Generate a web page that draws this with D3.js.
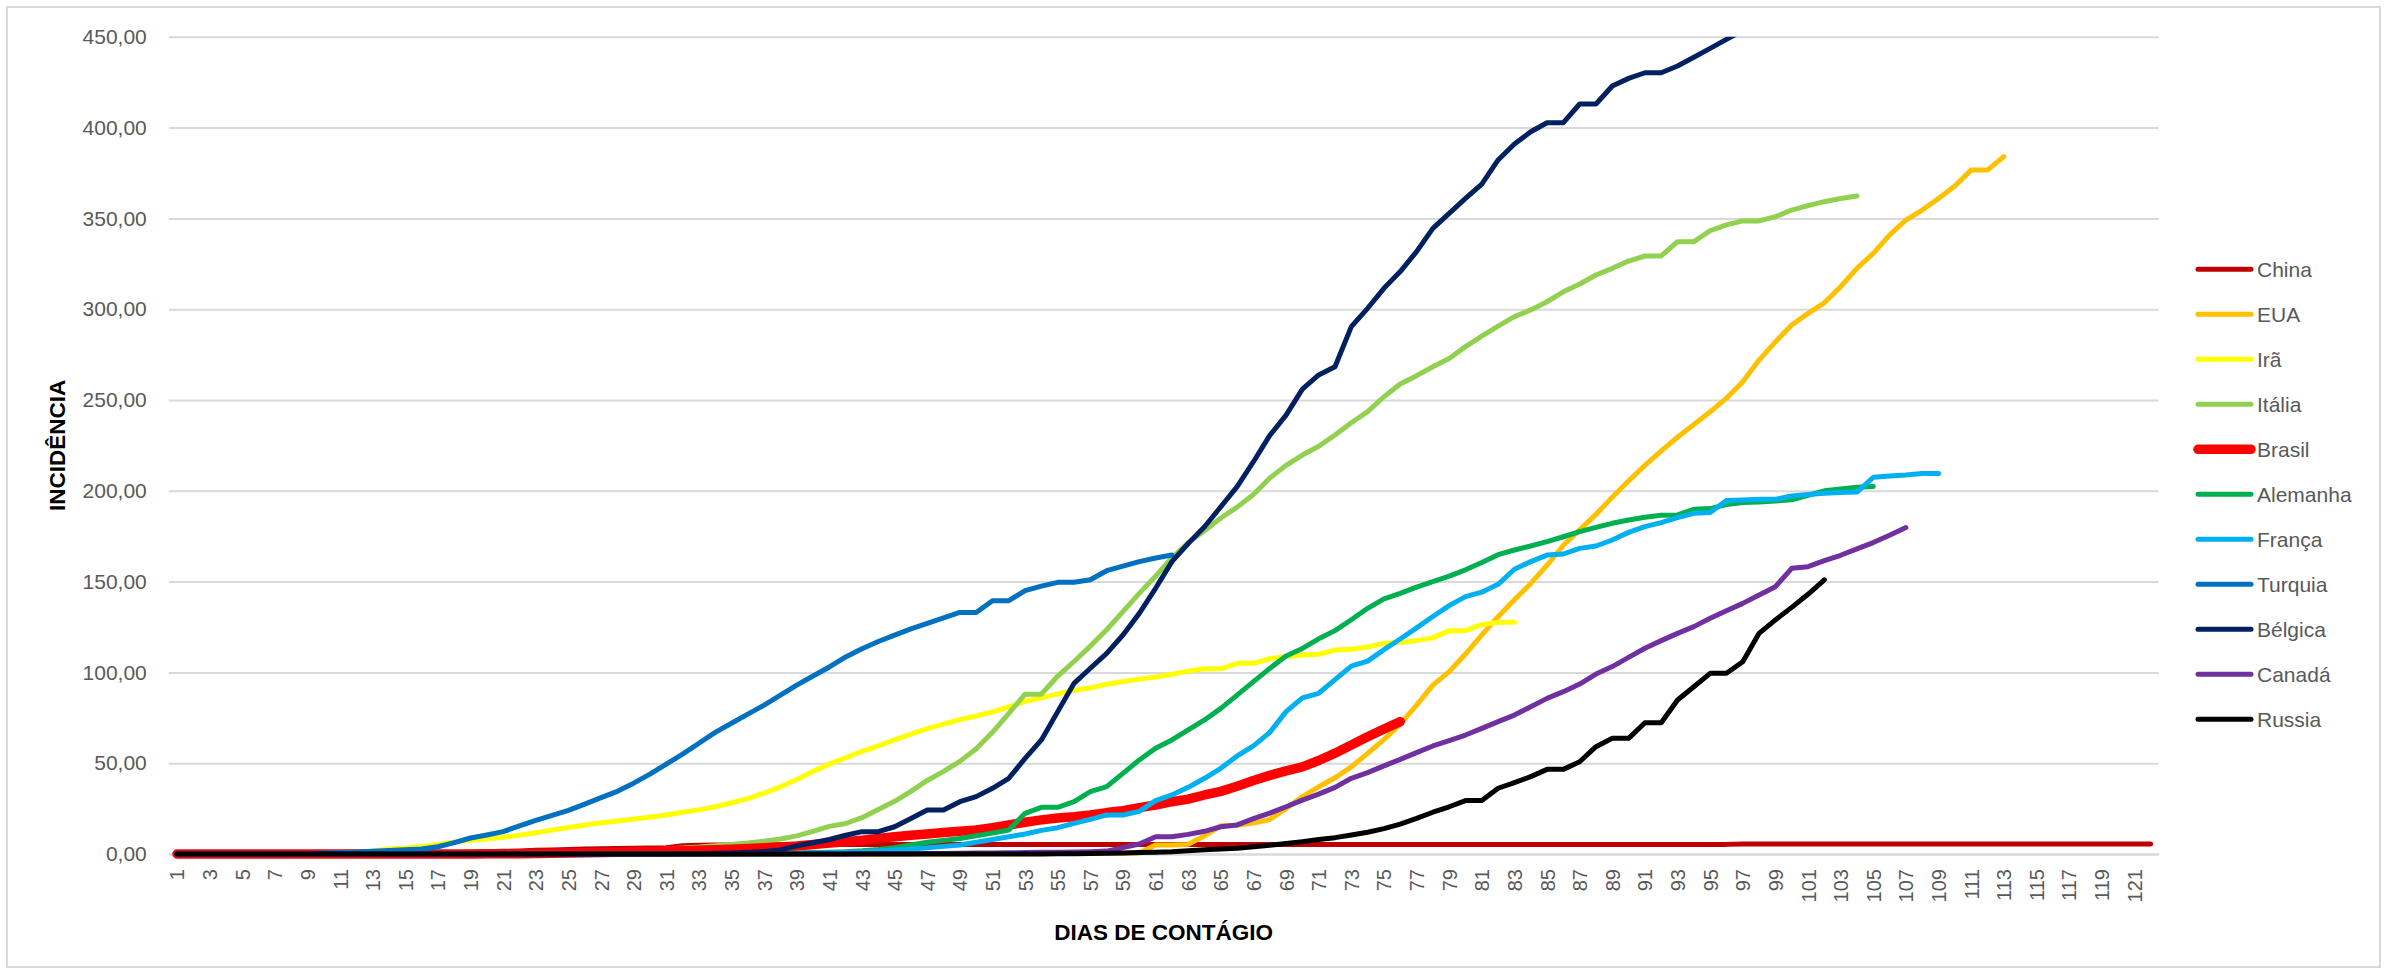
<!DOCTYPE html>
<html>
<head>
<meta charset="utf-8">
<script src="https://cdn.jsdelivr.net/npm/d3@7"></script>
<style>
html,body{margin:0;padding:0;background:#fff;}
svg{display:block;font-family:"Liberation Sans",Arial,sans-serif;}
</style>
</head>
<body>
<svg id="chart" width="2387" height="974"></svg>
<script>
// ---------- DATA ----------
const days = d3.range(1, 123);
const xTickLabels = days.filter(d => d % 2 === 1);
const yTicks = [0, 50, 100, 150, 200, 250, 300, 350, 400, 450];
const xTitle = "DIAS DE CONTÁGIO";
const yTitle = "INCIDÊNCIA";

const seriesNames = ["China", "EUA", "Irã", "Itália", "Brasil", "Alemanha", "França", "Turquia", "Bélgica", "Canadá", "Russia"];

const china = [
  0, 0, 0, 0, 0.01, 0.01, 0.02, 0.02, 0.03, 0.04,
  0.05, 0.08, 0.1, 0.2, 0.3, 0.4, 0.55, 0.7, 0.95, 1.2,
  1.45, 1.7, 2.0, 2.25, 2.5, 2.7, 2.9, 3.05, 3.2, 3.3,
  3.5, 4.6, 4.8, 4.9, 4.95, 5.0, 5.05, 5.1, 5.12, 5.15,
  5.17, 5.18, 5.19, 5.2, 5.2, 5.21, 5.21, 5.22, 5.22, 5.22,
  5.23, 5.23, 5.23, 5.23, 5.23, 5.24, 5.24, 5.24, 5.24, 5.25,
  5.25, 5.25, 5.25, 5.25, 5.26, 5.26, 5.26, 5.26, 5.26, 5.27,
  5.27, 5.27, 5.27, 5.27, 5.28, 5.28, 5.28, 5.28, 5.28, 5.29,
  5.29, 5.29, 5.29, 5.29, 5.3, 5.3, 5.3, 5.3, 5.3, 5.3,
  5.3, 5.3, 5.3, 5.3, 5.3, 5.3, 5.5, 5.5, 5.5, 5.5,
  5.5, 5.5, 5.5, 5.5, 5.5, 5.5, 5.5, 5.5, 5.5, 5.5,
  5.5, 5.5, 5.5, 5.5, 5.5, 5.5, 5.5, 5.5, 5.5, 5.5,
  5.5, 5.5
];
const eua = [
  0, 0, 0, 0, 0, 0, 0, 0, 0, 0,
  0, 0, 0, 0, 0, 0, 0, 0, 0, 0,
  0, 0, 0, 0, 0, 0, 0, 0, 0, 0,
  0, 0, 0, 0, 0, 0, 0, 0, 0, 0.01,
  0.01, 0.01, 0.01, 0.01, 0.02, 0.02, 0.03, 0.04, 0.05, 0.07,
  0.1, 0.13, 0.17, 0.2, 0.25, 0.3, 0.35, 0.4, 0.45, 0.5,
  5, 5, 5.3, 10, 15.5, 15.8, 17, 19, 25, 31.6,
  37, 42, 48, 55.4, 63, 71.5, 82, 93, 100.4, 110.1,
  120.6, 130.7, 140, 149, 159, 170, 178.5, 187, 196.5, 205.5,
  214, 222, 229.5, 236.5, 243.5, 251, 260, 272, 282, 291.3,
  297.7, 303.5, 312.4, 322.5, 330.7, 340.8, 349.1, 354.6, 361, 367.8,
  376.6, 376.6, 384
];
const ira = [
  0, 0, 0.01, 0.02, 0.05, 0.07, 0.1, 0.17, 0.29, 0.46,
  0.7, 1.1, 1.7, 2.7, 3.3, 4.2, 5.3, 6.6, 7.5, 8.4,
  9.2, 10.4, 11.7, 13.2, 14.6, 16, 17.2, 18.2, 19.2, 20.4,
  21.5, 23, 24.3, 26, 28.2, 30.5, 33.5, 37, 41, 45.5,
  49.5, 53, 56.5, 59.5, 62.8, 66, 69, 71.5, 74, 76,
  78.3, 81, 84, 86, 88.2, 90, 91.5, 93.5, 95, 96.3,
  97.5, 99, 100.7, 102, 102, 105, 105, 107.5, 108.8, 109.6,
  110, 112.3, 112.7, 114, 116, 116.5, 117.5, 119, 123, 123,
  126.3, 127.6, 127.6
];
const italia = [
  0, 0, 0, 0, 0, 0, 0, 0, 0, 0,
  0, 0, 0, 0, 0, 0, 0, 0, 0, 0,
  0, 0.01, 0.1, 0.2, 0.4, 0.6, 0.9, 1.2, 1.6, 2.0,
  2.8, 3.3, 3.8, 4.5, 5.3, 6, 7, 8.3, 10, 12.5,
  15.2, 16.8, 20, 24.5, 29, 34.5, 40.5, 45.5, 51, 58,
  67, 77.5, 88, 88, 98, 106, 114.5, 123.5, 133.5, 143.5,
  153, 163, 171.5, 178, 185, 191, 198, 207, 214, 219.7,
  224.5, 230.7, 237.5, 243.6, 251.8, 258.8, 263.4, 268.3, 272.9, 279.4,
  285.2, 290.7, 295.9, 299.6, 304.1, 309.6, 313.9, 318.8, 322.5, 326.5,
  329.3, 329.3, 337.2, 337.2, 343.2, 346.4, 348.6, 348.6, 350.9, 354.6,
  357, 359.2, 361, 362.3
];
const brasil = [
  0, 0, 0, 0, 0, 0, 0, 0, 0, 0,
  0, 0, 0, 0, 0, 0.01, 0.02, 0.03, 0.05, 0.1,
  0.15, 0.2, 0.25, 0.35, 0.5, 0.65, 0.8, 1.0, 1.2, 1.4,
  1.6, 1.8, 2.0, 2.3, 2.6, 3.0, 3.4, 3.8, 4.4, 5.2,
  6, 6.8, 7.6, 8.6, 9.5, 10.3, 11, 11.8, 12.5, 13.2,
  14.5, 16, 17.5, 18.8, 19.8, 20.5, 21.5, 22.8, 23.8, 25.5,
  27, 28.8, 30.2, 32.5, 34.5, 37.3, 40.5, 43.3, 45.8, 48,
  51.5, 55.5, 60, 64.5, 68.8, 72.9
];
const alemanha = [
  0, 0, 0, 0, 0, 0, 0, 0, 0, 0.01,
  0.01, 0.01, 0.01, 0.01, 0.01, 0.01, 0.01, 0.01, 0.01, 0.01,
  0.02, 0.02, 0.02, 0.02, 0.02, 0.02, 0.02, 0.02, 0.02, 0.02,
  0.02, 0.02, 0.02, 0.05, 0.15, 0.2, 0.3, 0.4, 0.6, 0.8,
  1.0, 1.3, 1.8, 2.5, 3.5, 5, 6.5, 7.5, 8.5, 10,
  11.5, 13.2, 22.4, 25.7, 25.7, 28.8, 34.3, 37.1, 44.4, 51.8,
  58.2, 62.8, 68.3, 73.8, 80.2, 87.5, 94.9, 102.2, 109, 113.2,
  118.5, 123, 129, 135.3, 140.5, 143.5, 147, 150, 153, 156.5,
  160.5, 164.8, 167.4, 169.6, 172, 174.7, 177.5, 179.9, 182.1, 183.9,
  185.4, 186.5, 186.7, 189.8, 190.2, 192.4, 193.5, 193.8, 194.4, 195,
  197.5, 200, 201, 201.9, 202.4
];
const franca = [
  0, 0, 0, 0, 0, 0, 0, 0, 0, 0,
  0.01, 0.01, 0.01, 0.01, 0.01, 0.01, 0.01, 0.01, 0.01, 0.01,
  0.02, 0.02, 0.02, 0.02, 0.02, 0.02, 0.02, 0.02, 0.02, 0.02,
  0.02, 0.02, 0.02, 0.03, 0.05, 0.1, 0.15, 0.2, 0.3, 0.5,
  0.7, 1.0, 1.3, 1.7, 2.2, 2.7, 3.4, 4.2, 5.0, 6.5,
  8.0, 9.5, 11, 13, 14.5, 16.9, 19.1, 21.5, 21.5, 23.5,
  29.4, 32.5, 36.7, 41.7, 47.2, 54, 59.5, 67, 78.4, 86,
  88.5, 96, 103.5, 106.2, 112.5, 118.4, 124.5, 130.8, 136.8, 141.7,
  144.2, 148.5, 156.8, 161, 164.6, 165.2, 168.3, 169.6, 172.9, 177.1,
  180.3, 182.5, 185.2, 187.6, 188.1, 194.6, 194.9, 195.3, 195.3, 197.1,
  198, 198.7, 199, 199.3, 207.4, 208.1, 208.7, 209.5, 209.5
];
const turquia = [
  0, 0, 0, 0, 0.01, 0.05, 0.1, 0.2, 0.3, 0.5,
  0.8, 1.1, 1.5, 1.9, 2.3, 2.8, 4.0, 6.3, 8.8, 10.5,
  12.3, 15.5, 18.5, 21.3, 24, 27.5, 31, 34.5, 39, 44,
  49.5, 55, 61, 67, 72, 77, 82, 87.5, 93, 98,
  103, 108.5, 113, 117, 120.5, 124, 127, 130, 133, 133,
  139.5, 139.5, 145, 147.5, 149.6, 149.6, 151, 156, 158.5, 161,
  163, 164.6
];
const belgica = [
  0, 0, 0, 0, 0, 0, 0, 0, 0, 0,
  0, 0, 0, 0, 0, 0, 0, 0, 0, 0,
  0, 0, 0, 0, 0, 0, 0.01, 0.01, 0.02, 0.03,
  0.05, 0.1, 0.2, 0.35, 0.55, 0.9, 1.4, 2.2, 4.5, 6.2,
  8, 10.3, 12.3, 12.3, 15, 19.6, 24.2, 24.2, 28.8, 31.6,
  36.2, 41.7, 52.7, 62.8, 78.4, 94, 102.3, 110.5, 120.6, 132.5,
  146.3, 161, 171, 180.2, 191.2, 202.3, 216, 230.5, 241.7, 256,
  263.8, 268.3, 290.4, 300.5, 311.5, 320.7, 331.7, 344.5, 352.8, 361,
  368.9, 382.2, 391, 397.7, 402.7, 402.7, 413, 413, 422.9, 427.1,
  430.2, 430.2, 433.9, 438.7, 443.6, 448.6, 453.5, 458
];
const canada = [
  0, 0, 0, 0, 0, 0, 0, 0, 0, 0,
  0, 0, 0, 0, 0, 0, 0, 0, 0, 0,
  0, 0, 0, 0, 0, 0, 0, 0, 0, 0,
  0, 0, 0, 0, 0.01, 0.01, 0.01, 0.02, 0.02, 0.03,
  0.04, 0.05, 0.07, 0.1, 0.15, 0.2, 0.25, 0.3, 0.4, 0.5,
  0.6, 0.7, 0.8, 0.9, 1.0, 1.1, 1.3, 1.6, 3.5, 5.5,
  9.5, 9.5, 10.8, 12.5, 15, 16, 19.5, 22.5, 26, 29.7,
  33, 36.7, 41.7, 44.8, 48.5, 52.1, 55.8, 59.5, 62.4, 65.5,
  69.2, 72.9, 76.5, 81.1, 85.7, 89.4, 93.6, 99.1, 103.2, 108.3,
  113.3, 117.5, 121.5, 125.2, 129.8, 134, 138, 142.6, 147.2, 157.3,
  158.2, 161.5, 164.5, 168, 171.5, 175.5, 179.8
];
const russia = [
  0, 0, 0, 0, 0, 0, 0, 0, 0, 0,
  0, 0, 0, 0, 0, 0, 0, 0, 0, 0,
  0, 0, 0, 0, 0, 0, 0, 0, 0, 0,
  0, 0, 0, 0, 0, 0, 0, 0, 0, 0,
  0, 0, 0, 0, 0, 0, 0, 0, 0, 0,
  0.01, 0.02, 0.03, 0.05, 0.1, 0.2, 0.3, 0.4, 0.6, 0.8,
  1.0, 1.3, 1.8, 2.3, 2.8, 3.2, 4.0, 4.8, 5.8, 6.8,
  8, 9, 10.5, 12, 14, 16.5, 19.6, 23, 26, 29.4,
  29.4, 36.2, 39.3, 42.6, 46.6, 46.6, 50.8, 59.1, 63.7, 63.7,
  72.3, 72.3, 84.8, 92.1, 99.5, 99.5, 105.9, 121.5, 128.9, 135.8,
  143, 151
];

const seriesValues = [china, eua, ira, italia, brasil, alemanha, franca, turquia, belgica, canada, russia];
const seriesColors = ["#C00000", "#FFC000", "#FFFF00", "#92D050", "#FF0000", "#00B050", "#00B0F0", "#0070C0", "#002060", "#7030A0", "#000000"];
const seriesWidths = [5, 5, 5, 5, 9.5, 5, 5, 5, 5, 5, 5];

// ---------- LAYOUT ----------
const W = 2387, H = 974;
const plot = { left: 168.8, right: 2158.7, top: 36.8, bottom: 854 };
const svg = d3.select("#chart");

svg.append("rect").attr("x", 0).attr("y", 0).attr("width", W).attr("height", H).attr("fill", "#fff");
svg.append("rect").attr("x", 7).attr("y", 7).attr("width", 2373).attr("height", 960)
  .attr("fill", "none").attr("stroke", "#D9D9D9").attr("stroke-width", 2);

const x = d3.scalePoint().domain(days).range([plot.left, plot.right]).padding(0.5);
const y = d3.scaleLinear().domain([0, 450]).range([plot.bottom, plot.top]);

const locale = d3.formatLocale({ decimal: ",", thousands: ".", grouping: [3], currency: ["", ""] });
const fmt = locale.format(".2f");

// Y axis with gridlines
const yAxis = svg.append("g")
  .attr("transform", `translate(${plot.left},0)`)
  .call(d3.axisLeft(y).tickValues(yTicks).tickFormat(fmt)
    .tickSize(-(plot.right - plot.left)).tickPadding(22));
yAxis.select(".domain").remove();
yAxis.selectAll(".tick line").attr("stroke", "#D9D9D9").attr("stroke-width", 2);
yAxis.selectAll(".tick text").attr("fill", "#595959").attr("font-size", 21)
  .attr("font-family", "'Liberation Sans', Arial, sans-serif");

// X axis
const xAxis = svg.append("g")
  .attr("transform", `translate(0,${plot.bottom})`)
  .call(d3.axisBottom(x).tickValues(xTickLabels).tickSize(0));
xAxis.select(".domain").attr("stroke", "#D9D9D9").attr("stroke-width", 2);
xAxis.selectAll(".tick text")
  .attr("fill", "#595959").attr("font-size", 20)
  .attr("font-family", "'Liberation Sans', Arial, sans-serif")
  .attr("transform", "rotate(-90)")
  .attr("text-anchor", "end")
  .attr("x", -15).attr("y", 0).attr("dy", "0.35em");

// Clip
svg.append("defs").append("clipPath").attr("id", "plotClip")
  .append("rect").attr("x", 0).attr("y", plot.top).attr("width", W).attr("height", H - plot.top);

const line = d3.line().x((d, i) => x(days[i])).y(d => y(d));

const linesG = svg.append("g").attr("clip-path", "url(#plotClip)");
linesG.selectAll("path.series")
  .data(seriesValues)
  .join("path")
  .attr("class", "series")
  .attr("d", d => line(d))
  .attr("fill", "none")
  .attr("stroke", (d, i) => seriesColors[i])
  .attr("stroke-width", (d, i) => seriesWidths[i])
  .attr("stroke-linejoin", "round")
  .attr("stroke-linecap", "round");

// Axis titles
svg.append("text")
  .attr("transform", `translate(57,${(plot.top + plot.bottom) / 2}) rotate(-90)`)
  .attr("text-anchor", "middle").attr("dy", "0.35em")
  .attr("font-size", 22.5).attr("font-weight", "bold").attr("fill", "#000")
  .text(yTitle);
svg.append("text")
  .attr("x", (plot.left + plot.right) / 2).attr("y", 932)
  .attr("text-anchor", "middle").attr("dy", "0.35em")
  .attr("font-size", 22.5).attr("font-weight", "bold").attr("fill", "#000")
  .text(xTitle);

// Legend
const legend = svg.append("g");
const legendItems = legend.selectAll("g.item")
  .data(seriesNames)
  .join("g")
  .attr("class", "item")
  .attr("transform", (d, i) => `translate(0,${269.3 + i * 45})`);
legendItems.append("line")
  .attr("x1", 2198).attr("x2", 2251).attr("y1", 0).attr("y2", 0)
  .attr("stroke", (d, i) => seriesColors[i])
  .attr("stroke-width", (d, i) => seriesWidths[i])
  .attr("stroke-linecap", "round");
legendItems.append("text")
  .attr("x", 2257).attr("y", 0).attr("dy", "0.35em")
  .attr("font-size", 21).attr("fill", "#595959")
  .text(d => d);
</script>
</body>
</html>
